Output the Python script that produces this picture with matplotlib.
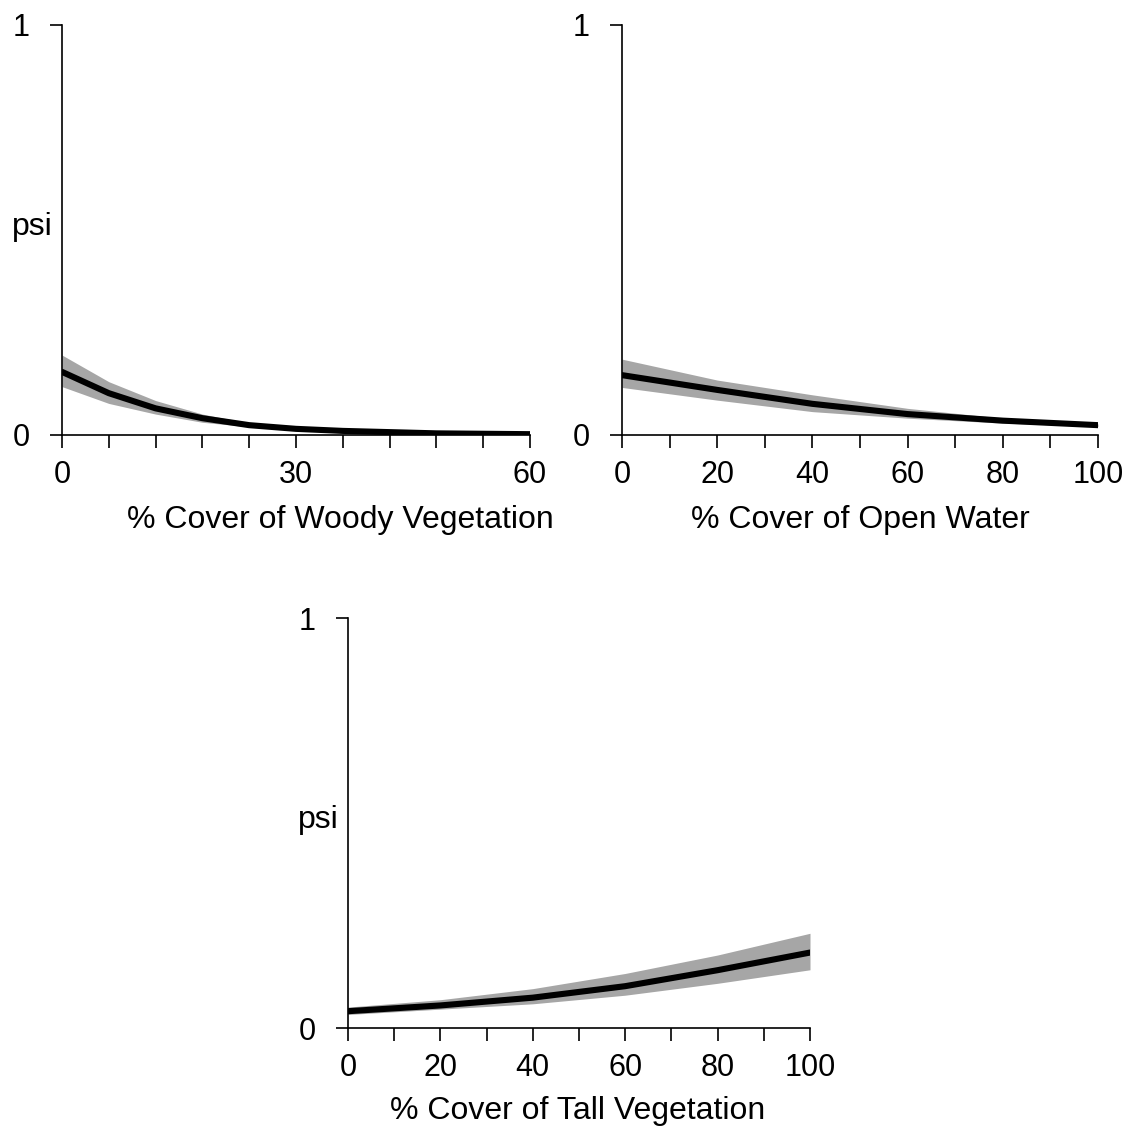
import numpy as np
import matplotlib.pyplot as plt
from matplotlib.ticker import MultipleLocator

plt.rcParams['font.family'] = ['Liberation Sans', 'DejaVu Sans']

# -------------------------------
# Woody vegetation (0-60 %)
# -------------------------------
woody_x = [0, 6, 12, 18, 24, 30, 36, 42, 48, 54, 60]
woody_mean = [0.154, 0.102, 0.065, 0.041, 0.024, 0.015, 0.010, 0.007, 0.004, 0.003, 0.002]
woody_upper = [0.195, 0.130, 0.084, 0.051, 0.029, 0.018, 0.012, 0.008, 0.005, 0.004, 0.003]
woody_lower = [0.118, 0.077, 0.051, 0.031, 0.020, 0.012, 0.008, 0.005, 0.003, 0.002, 0.001]

# -------------------------------
# Open water (0-100 %)
# -------------------------------
water_x = [0, 20, 40, 60, 80, 100]
water_mean = [0.146, 0.110, 0.076, 0.051, 0.035, 0.024]
water_upper = [0.185, 0.134, 0.098, 0.065, 0.041, 0.027]
water_lower = [0.116, 0.085, 0.057, 0.041, 0.029, 0.021]

# -------------------------------
# Tall vegetation (0-100 %)
# -------------------------------
tall_x = [0, 20, 40, 60, 80, 100]
tall_mean = [0.041, 0.055, 0.074, 0.102, 0.141, 0.184]
tall_upper = [0.051, 0.069, 0.096, 0.133, 0.178, 0.231]
tall_lower = [0.033, 0.046, 0.059, 0.080, 0.109, 0.142]

W, H = 1130, 1129
fig = plt.figure(figsize=(W / 100, H / 100), dpi=100)


def panel(rect_px, x, mean, lo, hi, xmax, minor, major, xlabel, label_cx, label_cy,
          ylab=True):
    l, t, r, b = rect_px
    ax = fig.add_axes([l / W, 1 - b / H, (r - l) / W, (b - t) / H])
    ax.fill_between(x, lo, hi, color='#a6a6a6', linewidth=0)
    ax.plot(x, mean, color='black', linewidth=4.4, solid_capstyle='round')
    ax.set_xlim(0, xmax)
    ax.set_ylim(0, 1)
    for s in ['top', 'right']:
        ax.spines[s].set_visible(False)
    for s in ['left', 'bottom']:
        ax.spines[s].set_linewidth(1.2)
    ax.xaxis.set_major_locator(MultipleLocator(major))
    ax.xaxis.set_minor_locator(MultipleLocator(minor))
    ax.set_yticks([0, 1])
    ax.set_yticklabels(['0', '1'])
    ax.tick_params(axis='both', which='both', direction='out', length=9, width=1.2,
                   labelsize=22)
    ax.tick_params(axis='x', pad=9)
    ax.tick_params(axis='y', pad=14)
    fig.text(label_cx / W, 1 - label_cy / H, xlabel,
             ha='center', va='center', fontsize=23)
    if ylab:
        fig.text(12 / W if l < 100 else (l - 50) / W, 1 - (t + 210) / H, 'psi',
                 ha='left', va='baseline', fontsize=23)
    return ax


panel((62, 25, 530, 435), woody_x, woody_mean, woody_lower, woody_upper,
      60, 6, 30, '% Cover of Woody Vegetation', 340, 520)
panel((622, 25, 1098, 435), water_x, water_mean, water_lower, water_upper,
      100, 10, 20, '% Cover of Open Water', 860, 520, ylab=False)
panel((348, 618, 810, 1028), tall_x, tall_mean, tall_lower, tall_upper,
      100, 10, 20, '% Cover of Tall Vegetation', 578, 1111)

fig.savefig('out.png', dpi=100)
